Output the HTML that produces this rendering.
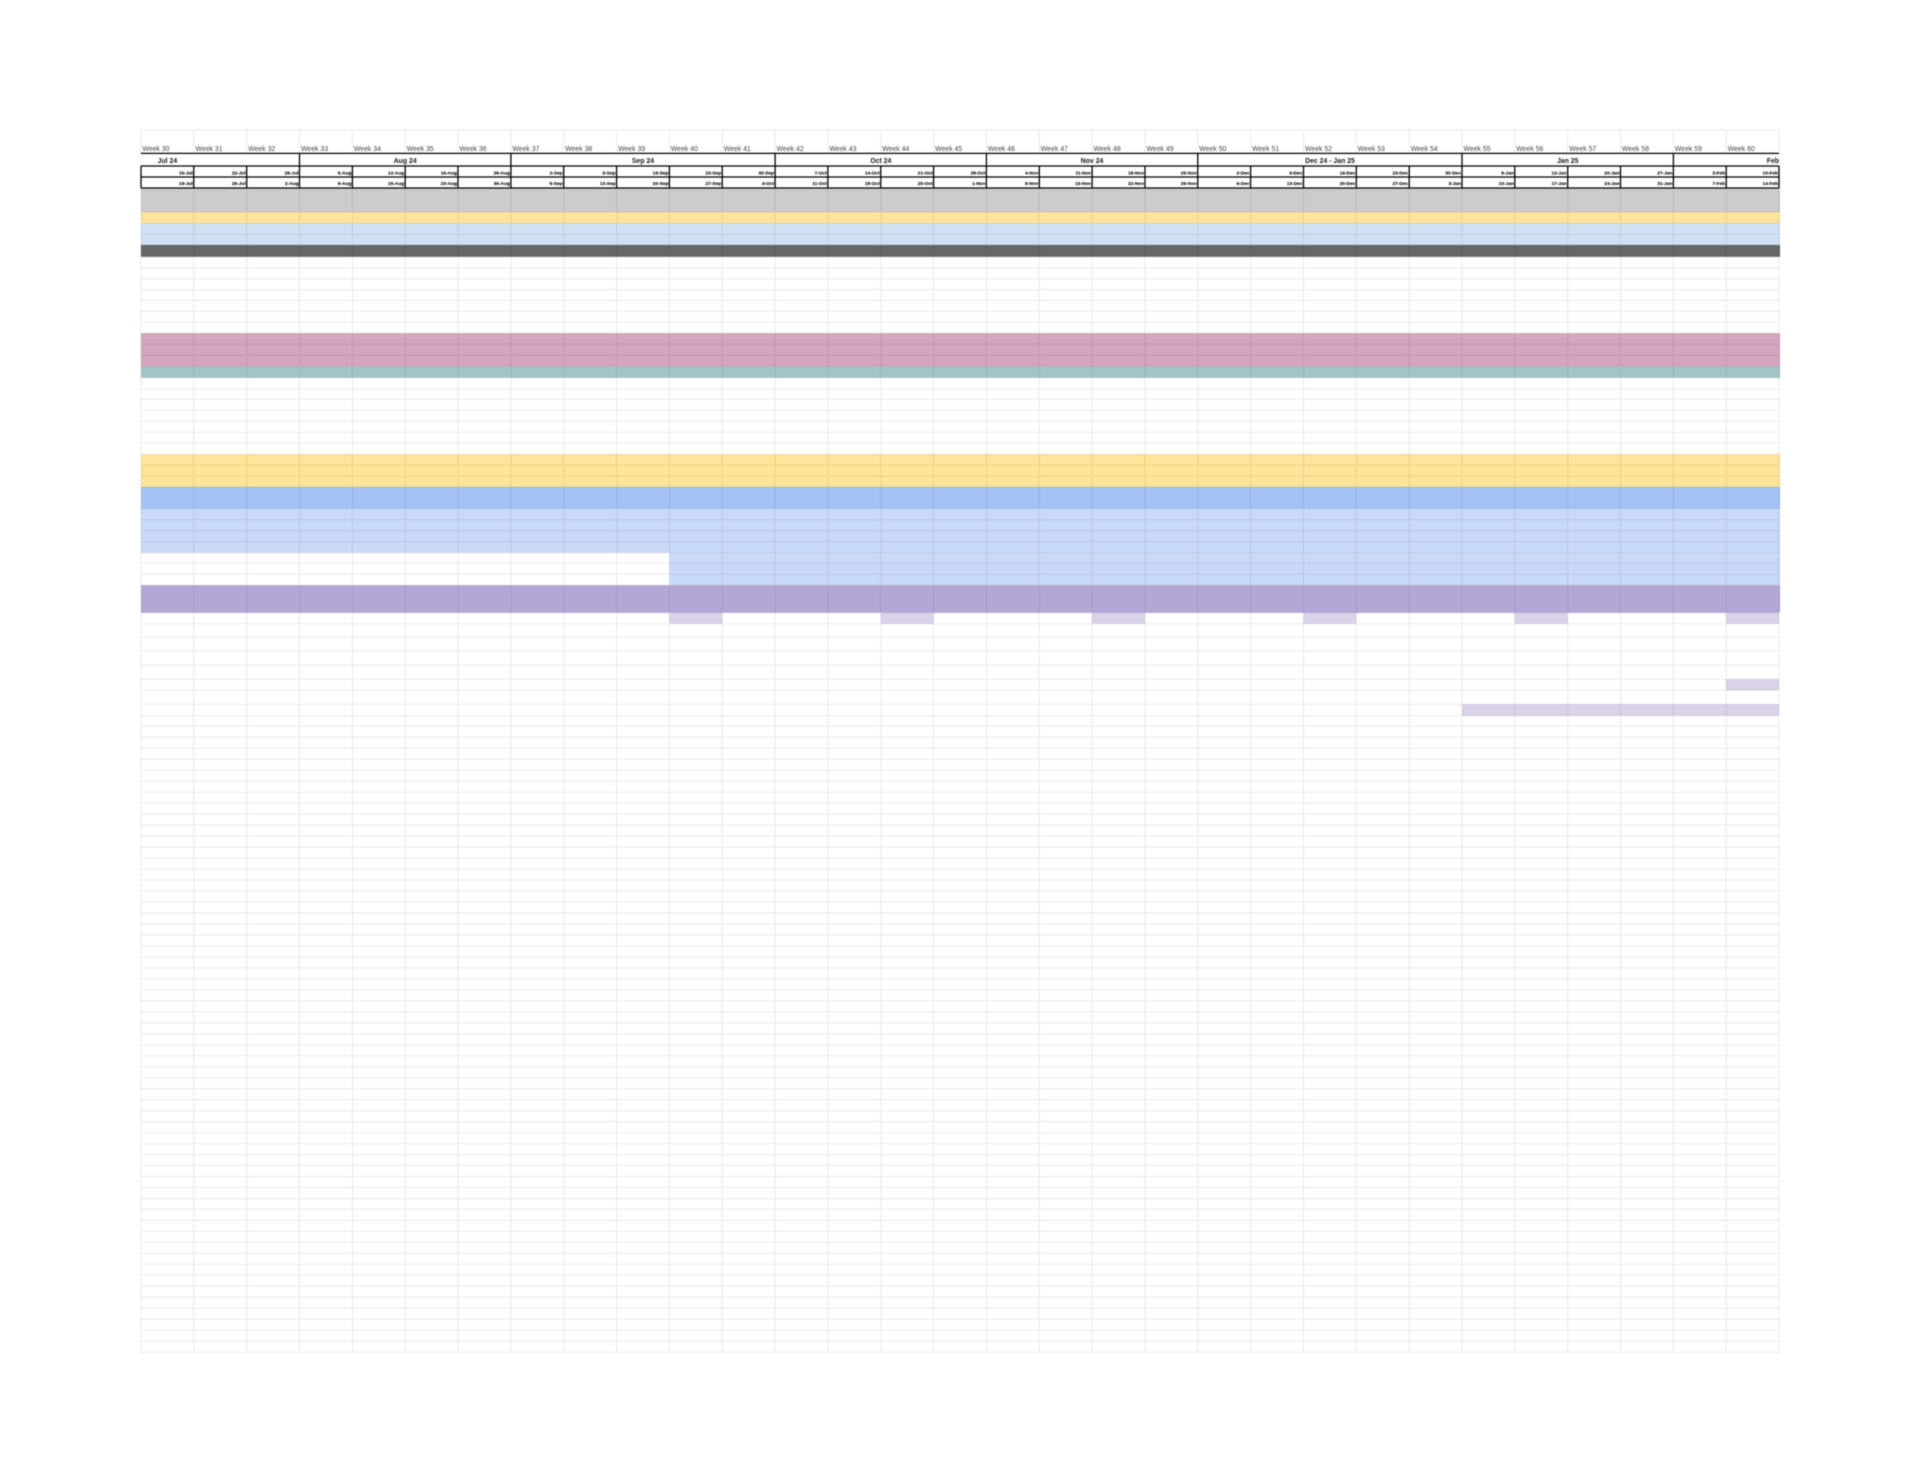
<!DOCTYPE html>
<html><head><meta charset="utf-8"><title>Timeline</title>
<style>html,body{margin:0;padding:0;background:#fff}svg{display:block;filter:blur(.45px)}text{font-family:"Liberation Sans",Arial,sans-serif}</style></head>
<body>
<svg xmlns="http://www.w3.org/2000/svg" width="1920" height="1483" viewBox="0 0 1920 1483">
<rect width="1920" height="1483" fill="#fff"/>
<!-- bands -->
<g shape-rendering="auto">
<rect x="141" y="188" width="1639" height="24" fill="#cccccc"/>
<rect x="141" y="212" width="1639" height="11.3" fill="#fee39b"/>
<rect x="141" y="223.3" width="1639" height="21.7" fill="#cfe2f3"/>
<rect x="141" y="245" width="1639" height="11.8" fill="#666666"/>
<rect x="141" y="333.3" width="1639" height="33" fill="#d5a6bd"/>
<rect x="141" y="366.3" width="1639" height="11.4" fill="#a2c4c9"/>
<rect x="141" y="454.3" width="1639" height="32.7" fill="#ffe599"/>
<rect x="141" y="487" width="1639" height="21.5" fill="#a4c2f4"/>
<rect x="141" y="508.5" width="1639" height="44.2" fill="#c9daf8"/>
<rect x="669.4" y="552.7" width="1110.6" height="32.6" fill="#c9daf8"/>
<rect x="141" y="585.3" width="1639" height="27.4" fill="#b4a7d6"/>
<g fill="#d9d2e9">
<rect x="669.4" y="612.7" width="52.8" height="11"/>
<rect x="880.8" y="612.7" width="52.8" height="11"/>
<rect x="1092.1" y="612.7" width="52.9" height="11"/>
<rect x="1303.5" y="612.7" width="52.8" height="11"/>
<rect x="1514.8" y="612.7" width="52.9" height="11"/>
<rect x="1726.2" y="612.7" width="52.8" height="11"/>
<rect x="1726.2" y="679.3" width="52.8" height="11"/>
<rect x="1462" y="704.3" width="317" height="11.4"/>
</g>
</g>
<!-- grid -->
<path fill="none" stroke="#000" stroke-opacity=".085" stroke-width="1" d="
M141 130V1352.2M193.8 130V1352.2M246.7 130V1352.2M299.5 130V1352.2M352.4 130V1352.2M405.2 130V1352.2M458 130V1352.2M510.9 130V1352.2M563.7 130V1352.2M616.6 130V1352.2M669.4 130V1352.2M722.2 130V1352.2M775.1 130V1352.2M827.9 130V1352.2M880.8 130V1352.2M933.6 130V1352.2M986.4 130V1352.2M1039.3 130V1352.2M1092.1 130V1352.2M1145 130V1352.2M1197.8 130V1352.2M1250.6 130V1352.2M1303.5 130V1352.2M1356.3 130V1352.2M1409.2 130V1352.2M1462 130V1352.2M1514.8 130V1352.2M1567.7 130V1352.2M1620.5 130V1352.2M1673.4 130V1352.2M1726.2 130V1352.2M1779 130V1352.2
M141 130H1779M141 212H1779M141 223.3H1779M141 234.2H1779M141 245H1779M141 256.8H1779
M141 267.9H1779M141 278.7H1779M141 289.6H1779M141 300.4H1779M141 311.3H1779M141 322.4H1779M141 333.3H1779M141 344.3H1779M141 355.3H1779M141 366.3H1779M141 377.7H1779
M141 388.7H1779M141 399.3H1779M141 410.3H1779M141 421.3H1779M141 432.3H1779M141 443.3H1779M141 454.3H1779M141 465.3H1779M141 476.3H1779M141 487H1779M141 508.5H1779M141 519.7H1779M141 530.7H1779M141 541.7H1779M141 552.7H1779M141 563.3H1779M141 574.3H1779M141 585.3H1779M141 612.7H1779M141 623.7H1779
M141 637.3H1779M141 651.3H1779M141 665.3H1779M141 679.3H1779M141 690.3H1779M141 704.3H1779M141 715.7H1779M141 726.3H1779
M141 737.3H1779M141 748.3H1779M141 759.3H1779M141 770.2H1779M141 781.2H1779M141 792.2H1779M141 803.2H1779M141 814.2H1779M141 825.1H1779M141 836.1H1779M141 847.1H1779M141 858.1H1779M141 869.1H1779M141 880H1779M141 891H1779M141 902H1779M141 913H1779M141 924H1779M141 934.9H1779M141 945.9H1779M141 956.9H1779M141 967.9H1779M141 978.9H1779M141 989.8H1779M141 1000.8H1779M141 1011.8H1779M141 1022.8H1779M141 1033.8H1779M141 1044.7H1779M141 1055.7H1779M141 1066.7H1779M141 1077.7H1779M141 1088.7H1779M141 1099.6H1779M141 1110.6H1779M141 1121.6H1779M141 1132.6H1779M141 1143.6H1779M141 1154.5H1779M141 1165.5H1779M141 1176.5H1779M141 1187.5H1779M141 1198.5H1779M141 1209.4H1779M141 1220.4H1779M141 1231.4H1779M141 1242.4H1779M141 1253.4H1779M141 1264.3H1779M141 1275.3H1779M141 1286.3H1779M141 1297.3H1779M141 1308.3H1779M141 1319.2H1779M141 1330.2H1779M141 1341.2H1779M141 1352.2H1779"/>
<!-- header lines -->
<rect x="141" y="153.4" width="1638" height="12.6" fill="#fff"/>
<rect x="141" y="166" width="1638" height="22" fill="#fff"/>
<path fill="none" stroke="#000" stroke-width="1.3" d="M141 153.4H1779M141 166H1779M141 177H1779M141 188H1779M141 166V188M193.8 166V188M246.7 166V188M352.4 166V188M405.2 166V188M458 166V188M563.7 166V188M616.6 166V188M669.4 166V188M722.2 166V188M827.9 166V188M880.8 166V188M933.6 166V188M1039.3 166V188M1092.1 166V188M1145 166V188M1250.6 166V188M1303.5 166V188M1356.3 166V188M1409.2 166V188M1514.8 166V188M1567.7 166V188M1620.5 166V188M1726.2 166V188M1779 166V188M299.5 153.4V188M510.9 153.4V188M775.1 153.4V188M986.4 153.4V188M1197.8 153.4V188M1462 153.4V188M1673.4 153.4V188"/>
<!-- week labels -->
<g font-size="6.9" fill="#444">
<text x="142.500" y="151">Week 30</text><text x="195.500" y="151">Week 31</text><text x="248.200" y="151">Week 32</text><text x="301" y="151">Week 33</text><text x="353.900" y="151">Week 34</text><text x="406.700" y="151">Week 35</text><text x="459.500" y="151">Week 36</text><text x="512.400" y="151">Week 37</text><text x="565.200" y="151">Week 38</text><text x="618.100" y="151">Week 39</text><text x="670.900" y="151">Week 40</text><text x="723.700" y="151">Week 41</text><text x="776.600" y="151">Week 42</text><text x="829.400" y="151">Week 43</text><text x="882.300" y="151">Week 44</text><text x="935.100" y="151">Week 45</text><text x="987.900" y="151">Week 46</text><text x="1040.800" y="151">Week 47</text><text x="1093.600" y="151">Week 48</text><text x="1146.500" y="151">Week 49</text><text x="1199.300" y="151">Week 50</text><text x="1252.100" y="151">Week 51</text><text x="1305" y="151">Week 52</text><text x="1357.800" y="151">Week 53</text><text x="1410.700" y="151">Week 54</text><text x="1463.500" y="151">Week 55</text><text x="1516.300" y="151">Week 56</text><text x="1569.200" y="151">Week 57</text><text x="1622" y="151">Week 58</text><text x="1674.900" y="151">Week 59</text><text x="1727.700" y="151">Week 60</text>
</g>
<!-- month labels -->
<g font-size="6.9" font-weight="700" fill="#1a1a1a" text-anchor="middle">
<text x="167.400" y="163">Jul 24</text><text x="405.200" y="163">Aug 24</text><text x="643" y="163">Sep 24</text><text x="880.800" y="163">Oct 24</text><text x="1092.100" y="163">Nov 24</text><text x="1330" y="163">Dec 24 - Jan 25</text><text x="1567.700" y="163">Jan 25</text>
<text x="1779" y="163" text-anchor="end">Feb</text>
</g>
<!-- dates -->
<g font-size="4.8" font-weight="700" fill="#111" stroke="#111" stroke-width=".12" text-anchor="end">
<text x="192.800" y="174.300">15-Jul</text><text x="245.700" y="174.300">22-Jul</text><text x="298.500" y="174.300">29-Jul</text><text x="351.400" y="174.300">5-Aug</text><text x="404.200" y="174.300">12-Aug</text><text x="457" y="174.300">19-Aug</text><text x="509.900" y="174.300">26-Aug</text><text x="562.700" y="174.300">2-Sep</text><text x="615.600" y="174.300">9-Sep</text><text x="668.400" y="174.300">16-Sep</text><text x="721.200" y="174.300">23-Sep</text><text x="774.100" y="174.300">30-Sep</text><text x="826.900" y="174.300">7-Oct</text><text x="879.800" y="174.300">14-Oct</text><text x="932.600" y="174.300">21-Oct</text><text x="985.400" y="174.300">28-Oct</text><text x="1038.300" y="174.300">4-Nov</text><text x="1091.100" y="174.300">11-Nov</text><text x="1144" y="174.300">18-Nov</text><text x="1196.800" y="174.300">25-Nov</text><text x="1249.600" y="174.300">2-Dec</text><text x="1302.500" y="174.300">9-Dec</text><text x="1355.300" y="174.300">16-Dec</text><text x="1408.200" y="174.300">23-Dec</text><text x="1461" y="174.300">30-Dec</text><text x="1513.800" y="174.300">6-Jan</text><text x="1566.700" y="174.300">13-Jan</text><text x="1619.500" y="174.300">20-Jan</text><text x="1672.400" y="174.300">27-Jan</text><text x="1725.200" y="174.300">3-Feb</text><text x="1778" y="174.300">10-Feb</text>
<text x="192.800" y="184.800">19-Jul</text><text x="245.700" y="184.800">26-Jul</text><text x="298.500" y="184.800">2-Aug</text><text x="351.400" y="184.800">9-Aug</text><text x="404.200" y="184.800">16-Aug</text><text x="457" y="184.800">23-Aug</text><text x="509.900" y="184.800">30-Aug</text><text x="562.700" y="184.800">6-Sep</text><text x="615.600" y="184.800">13-Sep</text><text x="668.400" y="184.800">20-Sep</text><text x="721.200" y="184.800">27-Sep</text><text x="774.100" y="184.800">4-Oct</text><text x="826.900" y="184.800">11-Oct</text><text x="879.800" y="184.800">18-Oct</text><text x="932.600" y="184.800">25-Oct</text><text x="985.400" y="184.800">1-Nov</text><text x="1038.300" y="184.800">8-Nov</text><text x="1091.100" y="184.800">15-Nov</text><text x="1144" y="184.800">22-Nov</text><text x="1196.800" y="184.800">29-Nov</text><text x="1249.600" y="184.800">6-Dec</text><text x="1302.500" y="184.800">13-Dec</text><text x="1355.300" y="184.800">20-Dec</text><text x="1408.200" y="184.800">27-Dec</text><text x="1461" y="184.800">3-Jan</text><text x="1513.800" y="184.800">10-Jan</text><text x="1566.700" y="184.800">17-Jan</text><text x="1619.500" y="184.800">24-Jan</text><text x="1672.400" y="184.800">31-Jan</text><text x="1725.200" y="184.800">7-Feb</text><text x="1778" y="184.800">14-Feb</text>
</g>
</svg>
</body></html>
